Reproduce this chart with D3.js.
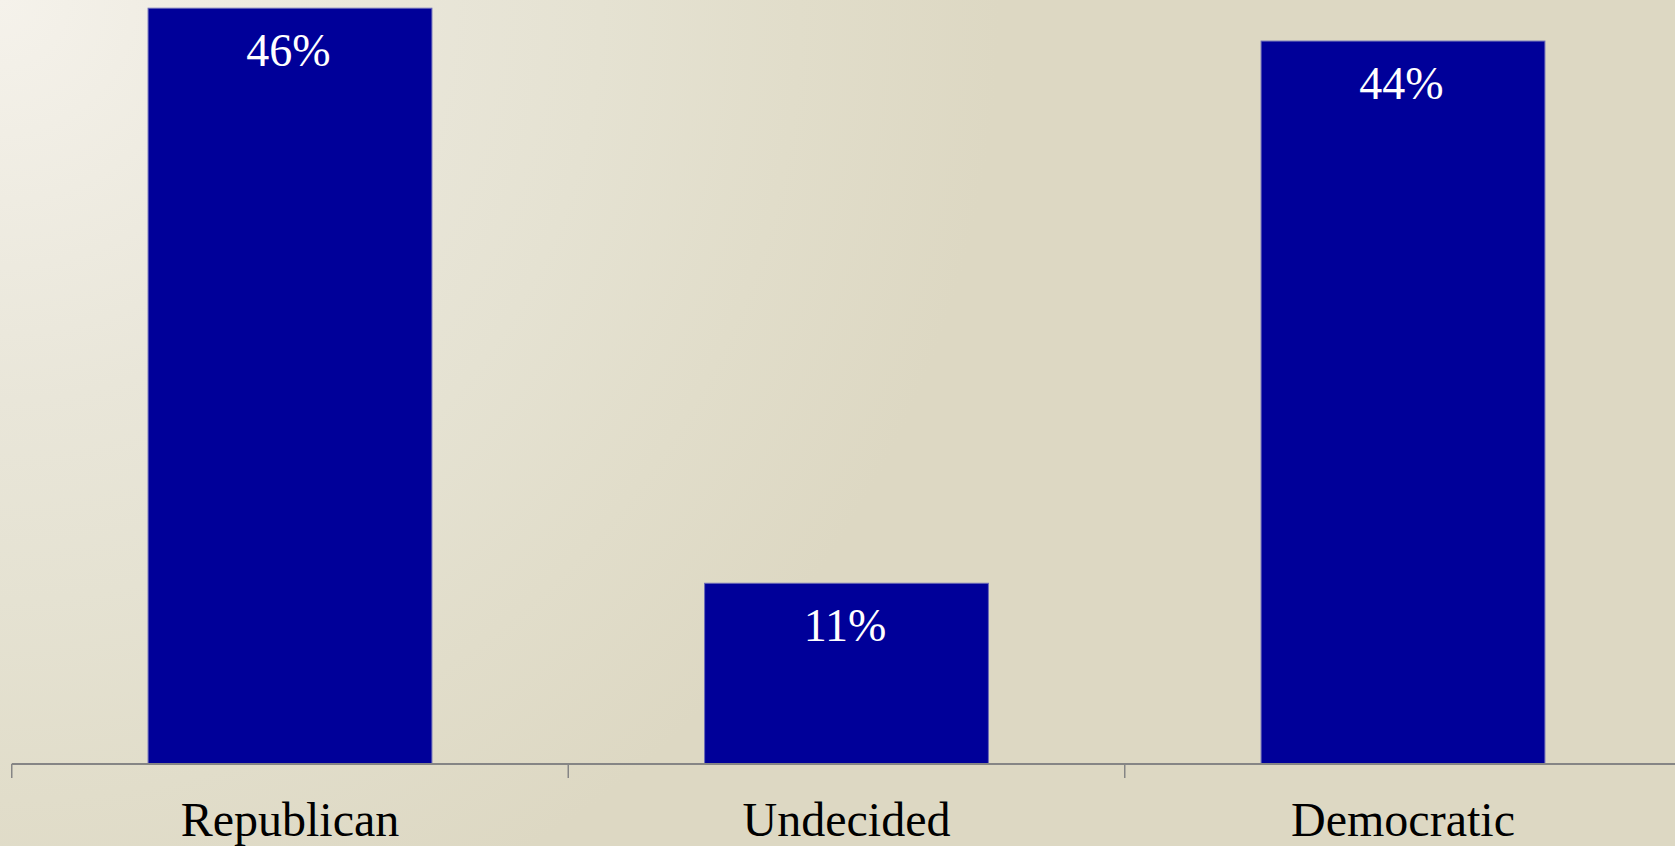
<!DOCTYPE html>
<html>
<head>
<meta charset="utf-8">
<script src="https://cdn.jsdelivr.net/npm/d3@7/dist/d3.min.js"></script>
<style>
  html, body { margin: 0; padding: 0; overflow: hidden; }
  svg { display: block; }
</style>
</head>
<body>
<svg id="chart" width="1675" height="846"></svg>
<script>
const categories = ["Republican", "Undecided", "Democratic"];
const values = [46, 11, 44];
const valueLabels = ["46%", "11%", "44%"];

const W = 1675, H = 846;
const svg = d3.select("#chart");

// background radial gradient from top-left
const defs = svg.append("defs");
const grad = defs.append("radialGradient")
  .attr("id", "bg")
  .attr("gradientUnits", "userSpaceOnUse")
  .attr("cx", 0).attr("cy", 0).attr("r", 1000);
[[0, "#f5f2eb"], [0.4, "#e9e6d9"], [0.6, "#e5e2d2"], [0.8, "#e1ddca"], [1, "#ddd8c3"]]
  .forEach(([o, c]) => grad.append("stop").attr("offset", o).attr("stop-color", c));
svg.append("rect").attr("width", W).attr("height", H).attr("fill", "url(#bg)");

const baseline = 764;
const x = d3.scaleBand()
  .domain(categories)
  .range([11.75, 1681.25])
  .paddingInner(0.49)
  .paddingOuter(0.245);
const y = d3.scaleLinear().domain([0, 46.5]).range([baseline, 0]);

const font = "'Liberation Serif', 'Times New Roman', serif";

// bars
svg.append("g").selectAll("rect")
  .data(categories)
  .join("rect")
  .attr("x", d => x(d))
  .attr("y", (d, i) => y(values[i]))
  .attr("width", x.bandwidth())
  .attr("height", (d, i) => baseline - y(values[i]))
  .attr("fill", "#000099")
  .attr("stroke", "#6a6ab8")
  .attr("stroke-width", 1);

// value labels
svg.append("g").selectAll("text")
  .data(categories)
  .join("text")
  .attr("x", d => x(d) + x.bandwidth() / 2 - 1.5)
  .attr("y", (d, i) => y(values[i]) + 58)
  .attr("text-anchor", "middle")
  .attr("fill", "#ffffff")
  .attr("font-family", font)
  .attr("font-size", 46)
  .text((d, i) => valueLabels[i]);

// x axis with ticks at band boundaries
const axisG = svg.append("g");
const step = x.step();
const start = x.range()[0];
axisG.append("line")
  .attr("x1", start).attr("x2", x.range()[1])
  .attr("y1", baseline).attr("y2", baseline)
  .attr("stroke", "#858585").attr("stroke-width", 2);
const boundaries = d3.range(categories.length + 1).map(i => start + i * step);
axisG.selectAll("line.tick")
  .data(boundaries)
  .join("line")
  .attr("class", "tick")
  .attr("x1", d => d).attr("x2", d => d)
  .attr("y1", baseline).attr("y2", baseline + 14)
  .attr("stroke", "#858585").attr("stroke-width", 1.5);

axisG.selectAll("text")
  .data(categories)
  .join("text")
  .attr("x", d => x(d) + x.bandwidth() / 2)
  .attr("y", 836)
  .attr("text-anchor", "middle")
  .attr("fill", "#000000")
  .attr("font-family", font)
  .attr("font-size", 48)
  .text(d => d);
</script>
</body>
</html>
